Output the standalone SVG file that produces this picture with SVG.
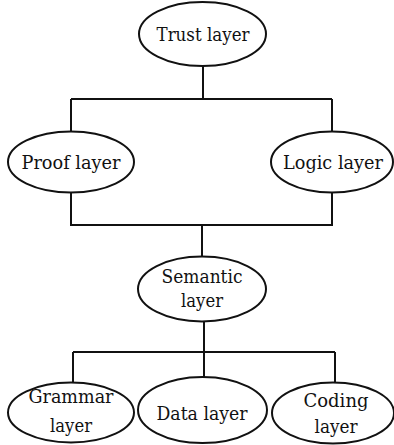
<svg xmlns="http://www.w3.org/2000/svg" width="394" height="445" viewBox="0 0 394 445">
<style>
.n{fill:#fff;stroke:#111;stroke-width:2}
.c{fill:none;stroke:#111;stroke-width:2}
.t{font-family:'DejaVu Serif',serif;font-size:19px;fill:#111;text-anchor:middle}
</style>
<rect width="394" height="445" fill="#fff"/>
<g id="connectors">
<path class="c" d="M203 66V99M71 99H332M71 99V132M332 99V132M71 192V225H332V192M202 225V257M204 321V352M73 352H335M73 352V383M204 352V377M335 352V383"/>
</g>
<g id="trust"><ellipse class="n" cx="202.5" cy="34" rx="63.5" ry="32"/><text class="t" x="203" y="41" textLength="93" lengthAdjust="spacingAndGlyphs">Trust layer</text></g>
<g id="proof"><ellipse class="n" cx="71" cy="162" rx="63" ry="30.5"/><text class="t" x="71" y="168.5" textLength="99" lengthAdjust="spacingAndGlyphs">Proof layer</text></g>
<g id="logic"><ellipse class="n" cx="332" cy="162" rx="61" ry="30.5"/><text class="t" x="333" y="168.5" textLength="100" lengthAdjust="spacingAndGlyphs">Logic layer</text></g>
<g id="semantic"><ellipse class="n" cx="202" cy="289" rx="64" ry="32.5"/><text class="t" x="202" y="283" textLength="81" lengthAdjust="spacingAndGlyphs">Semantic</text><text class="t" x="202" y="307" textLength="42" lengthAdjust="spacingAndGlyphs">layer</text></g>
<g id="grammar"><ellipse class="n" cx="71" cy="412.5" rx="63" ry="30"/><text class="t" x="71" y="403" textLength="85" lengthAdjust="spacingAndGlyphs">Grammar</text><text class="t" x="71" y="432" textLength="42" lengthAdjust="spacingAndGlyphs">layer</text></g>
<g id="data"><ellipse class="n" cx="202.5" cy="410" rx="64.5" ry="33"/><text class="t" x="202" y="420" textLength="91" lengthAdjust="spacingAndGlyphs">Data layer</text></g>
<g id="coding"><ellipse class="n" cx="333" cy="413" rx="61" ry="30.5"/><text class="t" x="336" y="407" textLength="65" lengthAdjust="spacingAndGlyphs">Coding</text><text class="t" x="336" y="433" textLength="43" lengthAdjust="spacingAndGlyphs">layer</text></g>
</svg>
